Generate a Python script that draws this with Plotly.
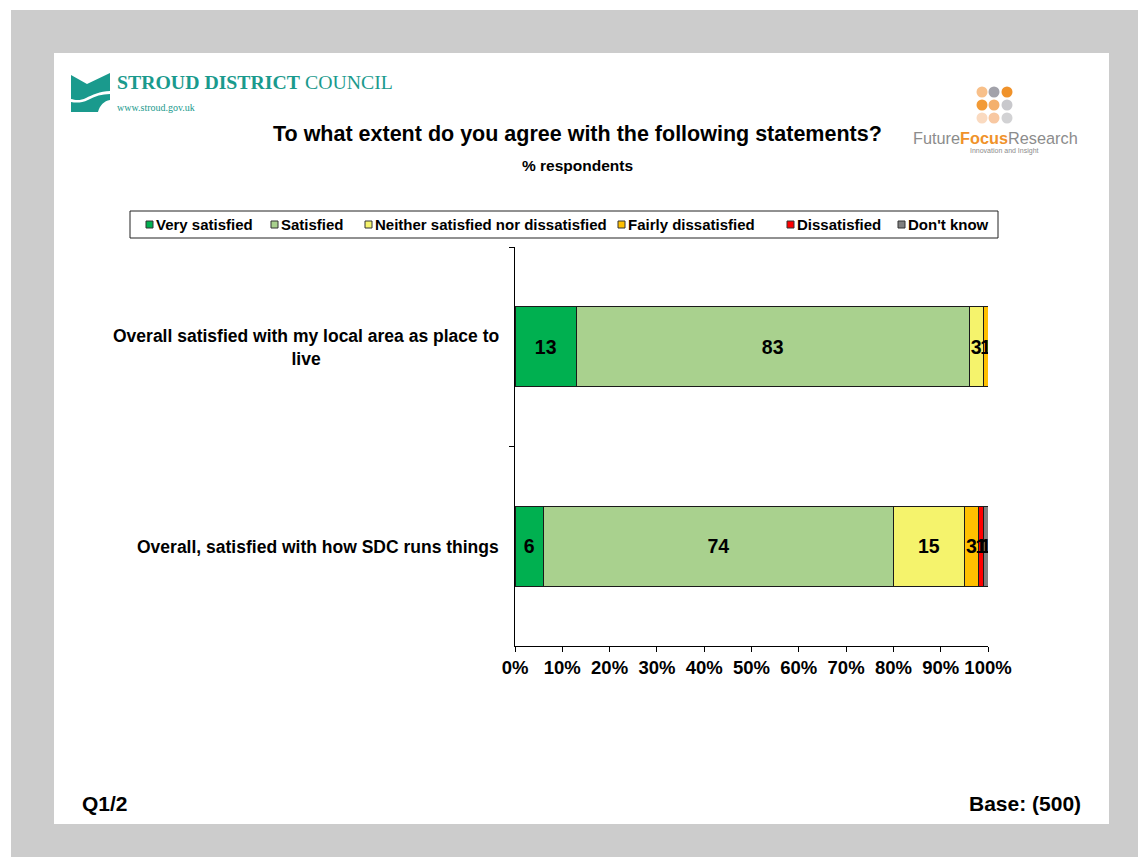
import plotly.graph_objects as go

# Survey results (% respondents)
categories = [
    "Overall satisfied with my local area as place to live",
    "Overall, satisfied with how SDC runs things",
]
category_labels = [
    "Overall satisfied with my local area as place to<br>live",
    "Overall, satisfied with how SDC runs things",
]
series_names = [
    "Very satisfied",
    "Satisfied",
    "Neither satisfied nor dissatisfied",
    "Fairly dissatisfied",
    "Dissatisfied",
    "Don't know",
]
very_satisfied = [13, 6]
satisfied = [83, 74]
neither = [3, 15]
fairly_dissatisfied = [1, 3]
dissatisfied = [0, 1]
dont_know = [0, 1]
tick_values = [0, 10, 20, 30, 40, 50, 60, 70, 80, 90, 100]
tick_labels = ["0%", "10%", "20%", "30%", "40%", "50%", "60%", "70%", "80%", "90%", "100%"]

series_values = [very_satisfied, satisfied, neither, fairly_dissatisfied, dissatisfied, dont_know]
series_colors = ["#00B050", "#A9D18E", "#F5F36C", "#FFC000", "#FF0000", "#808080"]

FONT = "Liberation Sans, Arial, sans-serif"
SERIF = "Liberation Serif, Times New Roman, serif"
TEAL = "#1A9A8D"

# page geometry (pixels) and plot-area margins
PAGE_W, PAGE_H = 1138, 857
L, R, T, B = 515, 150, 247, 211
PW, PH = PAGE_W - L - R, PAGE_H - T - B


def px(x):
    return (x - L) / PW


def py(y):
    return 1 - (y - T) / PH


fig = go.Figure()

for name, vals, color in zip(series_names, series_values, series_colors):
    fig.add_trace(go.Bar(
        name=name,
        y=categories,
        x=vals,
        orientation="h",
        width=0.4,
        marker=dict(color=color, line=dict(color="#1a1a1a", width=1)),
        text=[str(v) if v else "" for v in vals],
        textposition="inside",
        insidetextanchor="middle",
        textangle=0,
        constraintext="none",
        textfont=dict(family=FONT, size=19.5, color="black", weight="bold"),
        showlegend=False,
        hoverinfo="skip",
    ))

shapes = [
    # grey slide frame and white slide
    dict(type="rect", xref="paper", yref="paper", x0=px(11), x1=px(PAGE_W + 5),
         y0=py(10), y1=py(PAGE_H + 5), fillcolor="#CCCCCC", line=dict(width=0), layer="below"),
    dict(type="rect", xref="paper", yref="paper", x0=px(54), x1=px(1109),
         y0=py(53), y1=py(824), fillcolor="white", line=dict(width=0), layer="below"),
    # legend box
    dict(type="rect", xref="paper", yref="paper", x0=px(130), x1=px(998),
         y0=py(211), y1=py(238), fillcolor="white", line=dict(color="#222", width=1), layer="below"),
]

annotations = []

# legend entries
legend_x = [146, 271, 365, 618, 787, 898]
for name, color, lx in zip(series_names, series_colors, legend_x):
    shapes.append(dict(type="rect", xref="paper", yref="paper",
                       x0=px(lx), x1=px(lx + 7), y0=py(221), y1=py(228),
                       fillcolor=color, line=dict(color="#333", width=1)))
    annotations.append(dict(text=name, xref="paper", yref="paper", x=px(lx + 8), y=py(224.5),
                            xanchor="left", yanchor="middle", showarrow=False,
                            font=dict(family=FONT, size=15, color="black", weight="bold")))

# category labels
label_y = [347, 547]
for lbl, ly in zip(category_labels, label_y):
    annotations.append(dict(text=lbl, xref="paper", yref="paper", x=px(501), y=py(ly),
                            xanchor="right", yanchor="middle", align="center", showarrow=False,
                            font=dict(family=FONT, size=17.5, color="black", weight="bold")))

# titles and footer
annotations += [
    dict(text="To what extent do you agree with the following statements?", xref="paper", yref="paper",
         x=px(577), y=py(134), xanchor="center", yanchor="middle", showarrow=False,
         font=dict(family=FONT, size=21.5, color="black", weight="bold")),
    dict(text="% respondents", xref="paper", yref="paper",
         x=px(577), y=py(165), xanchor="center", yanchor="middle", showarrow=False,
         font=dict(family=FONT, size=15.5, color="black", weight="bold")),
    dict(text="Q1/2", xref="paper", yref="paper",
         x=px(80), y=py(803), xanchor="left", yanchor="middle", showarrow=False,
         font=dict(family=FONT, size=21, color="black", weight="bold")),
    dict(text="Base: (500)", xref="paper", yref="paper",
         x=px(1083), y=py(803), xanchor="right", yanchor="middle", showarrow=False,
         font=dict(family=FONT, size=21, color="black", weight="bold")),
    # council logo text
    dict(text="<b>STROUD DISTRICT</b> COUNCIL", xref="paper", yref="paper",
         x=px(115), y=py(82), xanchor="left", yanchor="middle", showarrow=False,
         font=dict(family=SERIF, size=19.8, color=TEAL)),
    dict(text="www.stroud.gov.uk", xref="paper", yref="paper",
         x=px(115), y=py(108), xanchor="left", yanchor="middle", showarrow=False,
         font=dict(family=SERIF, size=10, color=TEAL)),
    # research agency logo text
    dict(text="<span style='color:#8C8C8C'>Future</span><b><span style='color:#F0922A'>Focus</span></b>"
              "<span style='color:#8C8C8C'>Research</span>",
         xref="paper", yref="paper", x=px(995), y=py(138), xanchor="center", yanchor="middle",
         showarrow=False, font=dict(family=FONT, size=16.3, color="#8C8C8C")),
    dict(text="Innovation and Insight", xref="paper", yref="paper",
         x=px(1004), y=py(151), xanchor="center", yanchor="middle", showarrow=False,
         font=dict(family=FONT, size=7, color="#8C8C8C")),
]


def path_px(cmds):
    """Build an SVG path in paper coordinates from pixel points."""
    out = []
    for c in cmds:
        if isinstance(c, str):
            out.append(c)
        else:
            out.append(f"{px(c[0]):.5f},{py(c[1]):.5f}")
    return " ".join(out)


# council swoosh emblem: upper wing and lower wave
shapes.append(dict(type="path", xref="paper", yref="paper", fillcolor=TEAL, line=dict(width=0),
                   path=path_px(["M", (71, 75), "L", (87, 84), "L", (110, 73), "L", (110, 91),
                                 "C", (100, 91), (92, 95), (86, 98),
                                 "C", (80, 101), (75, 100), (71, 99), "Z"])))
shapes.append(dict(type="path", xref="paper", yref="paper", fillcolor=TEAL, line=dict(width=0),
                   path=path_px(["M", (71, 102), "C", (76, 103), (82, 103), (88, 100),
                                 "C", (95, 96), (102, 94), (110, 94), "L", (110, 100),
                                 "C", (104, 101), (100, 105), (98, 112), "L", (71, 112), "Z"])))

# agency dot grid
dot_cols = [982, 994, 1007]
dot_rows = [92, 105, 118]
dot_colors = [
    ["#F8C08A", "#A2A2AA", "#F0922A"],
    ["#F29A36", "#F4B06C", "#C8C8CC"],
    ["#FADAC0", "#F8C8A2", "#D2D2D4"],
]
for r, cy in enumerate(dot_rows):
    for c, cx in enumerate(dot_cols):
        shapes.append(dict(type="circle", xref="paper", yref="paper",
                           x0=px(cx - 5.5), x1=px(cx + 5.5), y0=py(cy + 5.5), y1=py(cy - 5.5),
                           fillcolor=dot_colors[r][c], line=dict(width=0)))

fig.update_layout(
    width=PAGE_W,
    height=PAGE_H,
    margin=dict(l=L, r=R, t=T, b=B),
    paper_bgcolor="white",
    plot_bgcolor="rgba(0,0,0,0)",
    barmode="stack",
    showlegend=False,
    shapes=shapes,
    annotations=annotations,
    xaxis=dict(
        range=[0, 100],
        tickvals=tick_values,
        ticktext=tick_labels,
        showgrid=False,
        zeroline=False,
        showline=True,
        linecolor="black",
        linewidth=1,
        ticks="outside",
        ticklen=5,
        tickcolor="black",
        tickfont=dict(family=FONT, size=18.5, color="black", weight="bold"),
        fixedrange=True,
    ),
    yaxis=dict(
        autorange="reversed",
        showgrid=False,
        zeroline=False,
        showline=True,
        linecolor="black",
        linewidth=1,
        ticks="outside",
        ticklen=5,
        tickcolor="black",
        tickson="boundaries",
        showticklabels=False,
        fixedrange=True,
    ),
)

fig.write_html("out.html")
